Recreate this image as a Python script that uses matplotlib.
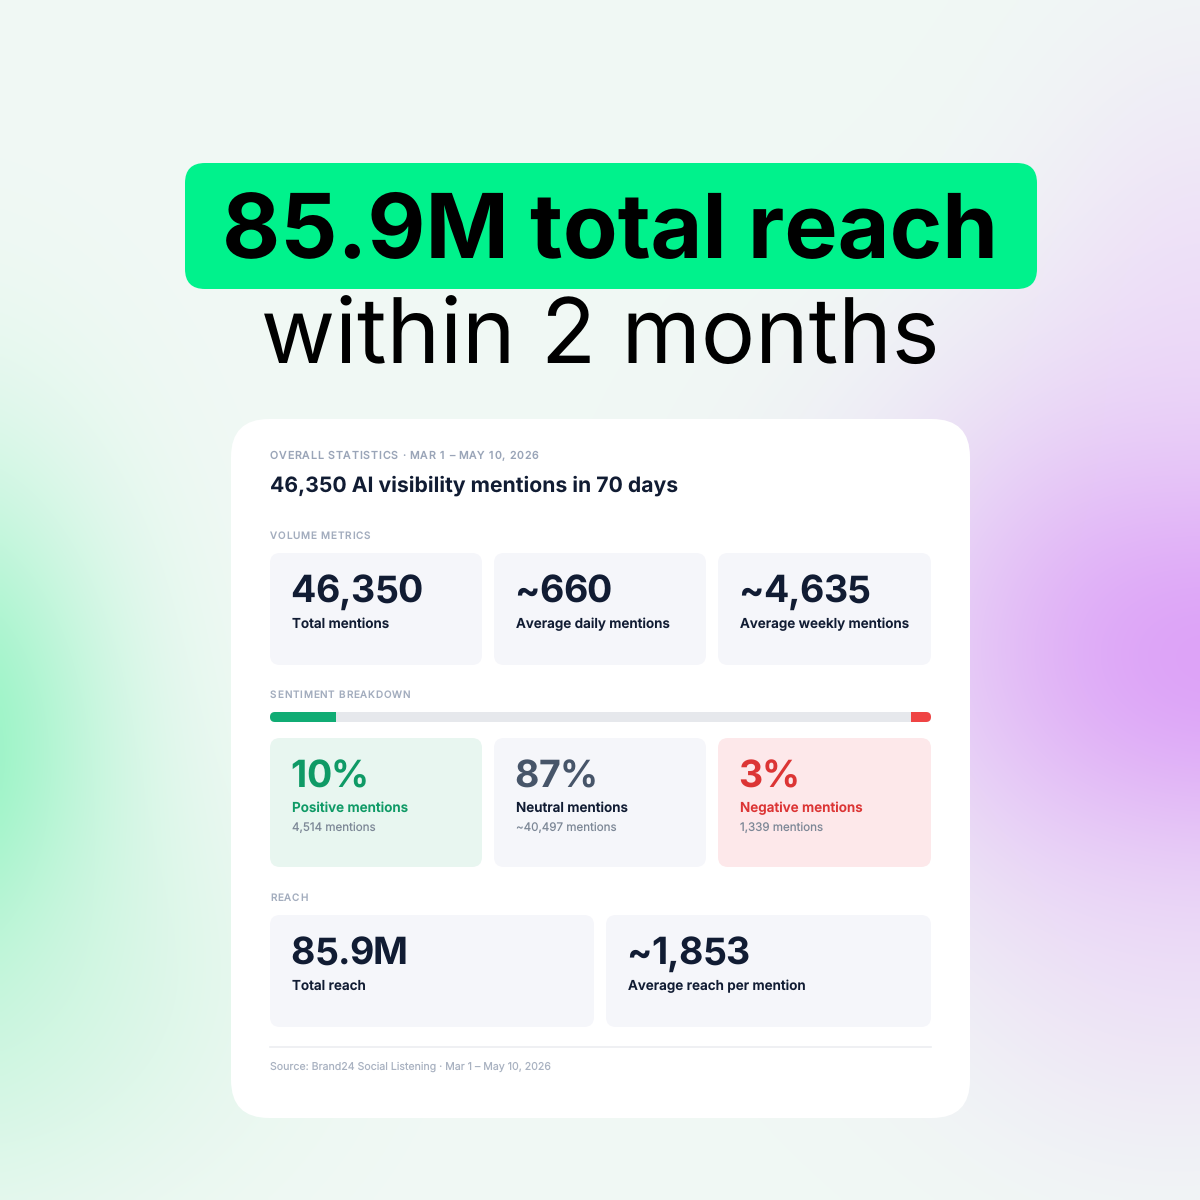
import numpy as np
import matplotlib
matplotlib.use("agg")
import matplotlib.pyplot as plt
from matplotlib.patches import FancyBboxPatch

plt.rcParams["font.family"] = ["Inter", "DejaVu Sans"]
plt.rcParams["text.hinting"] = "no_hinting"
plt.rcParams["text.hinting_factor"] = 1

# DATA
headline = "85.9M total reach"
subhead = "within 2 months"
eyebrow = "OVERALL STATISTICS · MAR 1 – MAY 10, 2026"
card_title = "46,350 AI visibility mentions in 70 days"
section_names = ["VOLUME METRICS", "SENTIMENT BREAKDOWN", "REACH"]
volume_values = ["46,350", "~660", "~4,635"]
volume_labels = ["Total mentions", "Average daily mentions", "Average weekly mentions"]
sentiment_share = [10, 87, 3]
sentiment_values = ["10%", "87%", "3%"]
sentiment_labels = ["Positive mentions", "Neutral mentions", "Negative mentions"]
sentiment_counts = ["4,514 mentions", "~40,497 mentions", "1,339 mentions"]
reach_values = ["85.9M", "~1,853"]
reach_labels = ["Total reach", "Average reach per mention"]
source = "Source: Brand24 Social Listening · Mar 1 – May 10, 2026"

INK = "#111c33"


def px(size):
    # font size given in image pixels
    return size * 0.72


def rbox(ax, x0, y0, x1, y1, r, color, z=2):
    p = FancyBboxPatch((x0 + r, y0 + r), x1 - x0 - 2 * r, y1 - y0 - 2 * r,
                       boxstyle=f"round,pad={r},rounding_size={r}",
                       fc=color, ec="none", zorder=z)
    ax.add_patch(p)
    return p


def put(ax, x, y, s, size, color, weight="normal", ha="left"):
    return ax.text(x, y, s, fontsize=px(size), color=color, fontweight=weight,
                   ha=ha, va="baseline", zorder=5)


def text_w(ax, s, size, weight):
    # the dot keeps trailing spaces in the measured width
    r = ax.figure.canvas.get_renderer()
    t = ax.text(0, 0, s + ".", fontsize=px(size), fontweight=weight)
    w = t.get_window_extent(r).width
    t.set_text(".")
    w -= t.get_window_extent(r).width
    t.remove()
    return w


def tracked(ax, x, y, s, size, color, spacing, weight="medium"):
    # letter spacing is not available in matplotlib, so step through the letters
    for i, ch in enumerate(s):
        adv = text_w(ax, s[:i], size, weight) if i else 0
        put(ax, x + adv + spacing * i, y, ch, size, color, weight)


fig = plt.figure(figsize=(12, 12), dpi=100)
ax = fig.add_axes([0, 0, 1, 1])
ax.set_xlim(0, 1200)
ax.set_ylim(1200, 0)
ax.axis("off")

# soft background glow
yy, xx = np.mgrid[0:1200:300j, 0:1200:300j]


def glow(cx, cy, sx, sy):
    return np.exp(-((xx - cx) / sx) ** 2 - ((yy - cy) / sy) ** 2)


img = np.ones((300, 300, 3)) * np.array([0.945, 0.975, 0.96])
layers = [
    (glow(-60, 770, 170, 290), np.array([0.50, 0.95, 0.72]), 0.85),
    (glow(60, 1000, 230, 200), np.array([0.80, 0.96, 0.87]), 0.45),
    (glow(1210, 650, 300, 270), np.array([0.86, 0.62, 0.97]), 1.0),
    (glow(1210, 300, 170, 260), np.array([0.93, 0.82, 0.98]), 0.5),
    (glow(1170, 980, 210, 190), np.array([0.93, 0.84, 0.97]), 0.4),
]
for g, col, a in layers:
    m = (g * a)[..., None]
    img = img * (1 - m) + col * m
ax.imshow(img, extent=(0, 1200, 1200, 0), aspect="auto", zorder=0, interpolation="bilinear")
ax.set_xlim(0, 1200)
ax.set_ylim(1200, 0)

# headline
rbox(ax, 185, 163, 1037, 289, 20, "#00f28c")
put(ax, 610.2, 258, headline, 89.5, "#000000", "bold", ha="center")
put(ax, 600.5, 363, subhead, 90.5, "#000000", ha="center")

# white card
rbox(ax, 231, 419, 970, 1118, 38, "#ffffff")
tracked(ax, 270, 459, eyebrow, 10.8, "#9aa5b8", 0.72)
put(ax, 270, 492, card_title, 21.2, INK, "bold")

# volume metrics
tracked(ax, 270, 539, section_names[0], 10, "#a3adbe", 0.75)
volume_x = [(270, 482), (494, 706), (718, 931)]
for (x0, x1), v, lab in zip(volume_x, volume_values, volume_labels):
    rbox(ax, x0, 553, x1, 665, 10, "#f5f6fa")
    tracked(ax, x0 + 20.5, 602.4, v, 37.5, INK, -0.7, "bold")
    put(ax, x0 + 22, 628, lab, 13.5, INK, "semibold")

# sentiment bar
tracked(ax, 270, 698, section_names[1], 10, "#a3adbe", 0.75)
bar_colors = ["#10ac74", "#e6e8ec", "#ef4444"]
track = rbox(ax, 270, 712, 931, 722, 5, "#e6e8ec")
left = 0
for share, col in zip(sentiment_share, bar_colors):
    seg = ax.barh(717, share * 6.61, left=270 + left * 6.61, height=10, color=col, zorder=3)
    seg[0].set_clip_path(track)
    left += share

sent_fill = ["#e8f6f0", "#f5f6fa", "#fde8ea"]
sent_val = ["#0f9a66", "#475569", "#dc3535"]
sent_lab = ["#0f9a66", INK, "#dc3535"]
for (x0, x1), v, lab, cnt, f, cv, cl in zip(volume_x, sentiment_values, sentiment_labels,
                                             sentiment_counts, sent_fill, sent_val, sent_lab):
    rbox(ax, x0, 738, x1, 867, 10, f)
    tracked(ax, x0 + 20.5, 787.4, v, 37.5, cv, -0.7, "bold")
    put(ax, x0 + 22, 812, lab, 13.5, cl, "semibold")
    put(ax, x0 + 22, 832, cnt, 11.6, "#7c8796")

# reach
tracked(ax, 270, 901, section_names[2], 10, "#a3adbe", 0.75)
reach_x = [(270, 594), (606, 931)]
for (x0, x1), v, lab in zip(reach_x, reach_values, reach_labels):
    rbox(ax, x0, 915, x1, 1027, 10, "#f5f6fa")
    tracked(ax, x0 + 20.5, 964.4, v, 37.5, INK, -0.7, "bold")
    put(ax, x0 + 22, 990, lab, 13.5, INK, "semibold")

ax.plot([270, 931], [1047, 1047], color="#eceef1", lw=1.2, zorder=3)
put(ax, 270, 1070, source, 10.6, "#a9b2c1")

fig.savefig("out.png", dpi=100)
